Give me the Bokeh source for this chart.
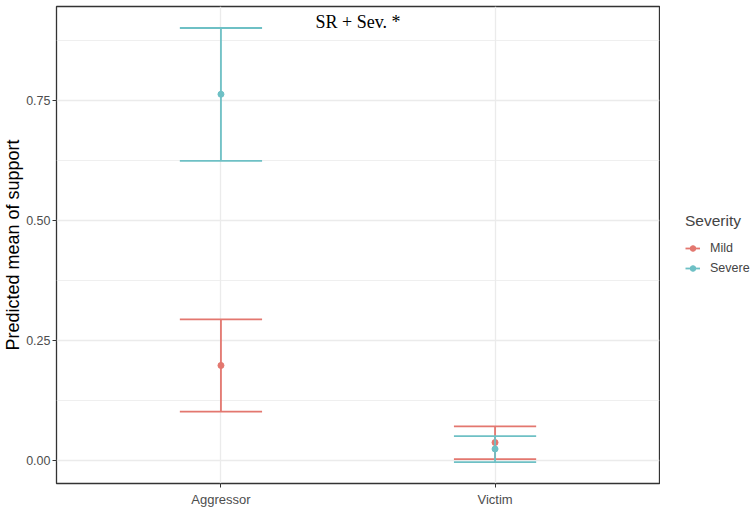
from bokeh.plotting import figure
from bokeh.layouts import row
from bokeh.models import (FactorRange, Range1d, FixedTicker, PrintfTickFormatter,
                          Legend, LegendItem, Label, ColumnDataSource)
from bokeh.transform import dodge
from bokeh.embed import file_html
from bokeh.resources import INLINE

# ---- data ----
roles = ["Aggressor", "Victim"]
mild_mean = [0.198, 0.0375]
mild_lower = [0.102, 0.003]
mild_upper = [0.294, 0.071]
severe_mean = [0.763, 0.024]
severe_lower = [0.624, -0.0035]
severe_upper = [0.901, 0.051]
y_ticks = [0.0, 0.25, 0.5, 0.75]
y_minor = [0.125, 0.375, 0.625, 0.875]
annotation_text = "SR + Sev. *"
annotation_x = 1.0
annotation_y = 0.9125
legend_title = "Severity"
series_names = ["Mild", "Severe"]
y_label = "Predicted mean of support"

MILD = "#E3776F"
SEVERE = "#6EC0C5"
GRID = "#EBEBEB"
colors = {"Mild": MILD, "Severe": SEVERE}

p = figure(width=660, height=510,
           x_range=FactorRange(factors=roles, range_padding=0.1,
                               range_padding_units="absolute"),
           y_range=Range1d(-0.0479, 0.9458),
           output_backend="svg", toolbar_location=None,
           min_border_top=6, min_border_left=54, min_border_bottom=27,
           min_border_right=1)
p.background_fill_color = "white"
p.border_fill_color = "white"
p.outline_line_color = "#333333"
p.outline_line_width = 1.3

# grids
p.xgrid.grid_line_color = GRID
p.xgrid.grid_line_width = 1.3
p.ygrid.grid_line_color = GRID
p.ygrid.grid_line_width = 1.3
p.ygrid.minor_grid_line_color = GRID
p.ygrid.minor_grid_line_width = 0.8

# axes
p.yaxis.ticker = FixedTicker(ticks=y_ticks, minor_ticks=y_minor)
p.yaxis.formatter = PrintfTickFormatter(format="%.2f")
for ax in (p.xaxis[0], p.yaxis[0]):
    ax.axis_line_color = None
    ax.major_tick_line_color = "#333333"
    ax.major_tick_out = 4
    ax.major_tick_in = 0
    ax.minor_tick_line_color = None
    ax.major_label_text_font = "Liberation Sans"
    ax.major_label_text_font_size = "12.5px"
    ax.major_label_text_color = "#4D4D4D"
    ax.major_label_standoff = 2
p.xaxis.major_label_standoff = 4
p.xaxis.major_label_text_font_size = "13px"
p.yaxis.axis_label = y_label
p.yaxis.axis_label_text_font = "Liberation Sans"
p.yaxis.axis_label_text_font_size = "18px"
p.yaxis.axis_label_text_font_style = "normal"
p.yaxis.axis_label_text_color = "black"
p.yaxis.axis_label_standoff = 0

for name, mean, lower, upper in [
        ("Mild", mild_mean, mild_lower, mild_upper),
        ("Severe", severe_mean, severe_lower, severe_upper)]:
    color = colors[name]
    src = ColumnDataSource(dict(role=roles, mean=mean, lower=lower, upper=upper))
    p.segment(x0="role", y0="lower", x1="role", y1="upper", source=src,
              line_color=color, line_width=1.8)
    for col in ("upper", "lower"):
        p.segment(x0=dodge("role", -0.15, range=p.x_range),
                  x1=dodge("role", 0.15, range=p.x_range),
                  y0=col, y1=col, source=src, line_color=color, line_width=1.8)
    p.scatter(x="role", y="mean", source=src, size=6, color=color)

p.add_layout(Label(x=annotation_x, y=annotation_y, text=annotation_text,
                   text_font="Liberation Serif", text_font_size="18px",
                   text_align="center", text_baseline="middle", text_color="black"))

# ---- legend panel ----
lp = figure(width=92, height=510, x_range=Range1d(0, 1), y_range=Range1d(0, 1),
            x_axis_type=None, y_axis_type=None, output_backend="svg",
            toolbar_location=None, min_border=0)
lp.outline_line_color = None
lp.grid.visible = False
lp.background_fill_color = "white"
lp.border_fill_color = "white"
items = []
for name in series_names:
    color = colors[name]
    s = lp.segment(x0=[-5], y0=[-5], x1=[-4], y1=[-5], line_color=color, line_width=1.8)
    c = lp.scatter(x=[-5], y=[-5], size=6, color=color)
    items.append(LegendItem(label=name, renderers=[s, c]))

legend = Legend(items=items, title=legend_title, location=(25, 208),
                margin=0, padding=0, spacing=6,
                glyph_width=15, glyph_height=14, label_height=14,
                label_standoff=10, title_standoff=11,
                label_text_font="Liberation Sans", label_text_font_size="12.5px",
                title_text_font="Liberation Sans", title_text_font_size="15.5px",
                title_text_font_style="normal",
                border_line_color=None, background_fill_alpha=0)
lp.add_layout(legend)

open("out.html", "w").write(file_html(row(p, lp), INLINE))
